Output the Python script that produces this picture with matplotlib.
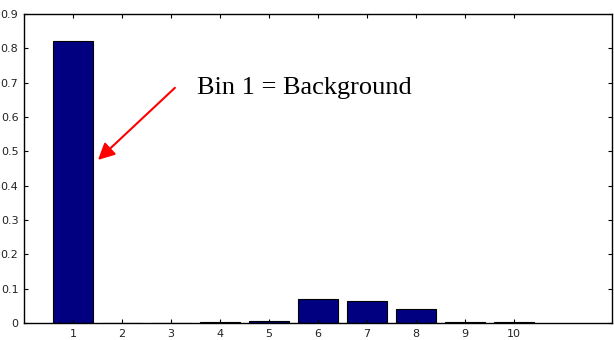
import matplotlib
matplotlib.use("Agg")
import matplotlib.pyplot as plt

bins = [1, 2, 3, 4, 5, 6, 7, 8, 9, 10]
values = [0.821, 0.001, 0.001, 0.002, 0.006, 0.070, 0.063, 0.040, 0.004, 0.002]
yticks = [0, 0.1, 0.2, 0.3, 0.4, 0.5, 0.6, 0.7, 0.8, 0.9]
ytick_labels = ["0", "0.1", "0.2", "0.3", "0.4", "0.5", "0.6", "0.7", "0.8", "0.9"]
annotation = "Bin 1 = Background"

fig = plt.figure(figsize=(6.14, 3.40), dpi=100)
ax = fig.add_axes([24/614, 1 - 323/340, (612-24)/614, (323-14)/340])

ax.bar(bins, values, width=0.8, color="#000080", edgecolor="black", linewidth=0.8)
ax.set_xlim(0, 12)
ax.set_ylim(0, 0.9)
ax.set_xticks(bins)
ax.set_xticklabels([str(b) for b in bins])
ax.set_yticks(yticks)
ax.set_yticklabels(ytick_labels)
for lab in ax.get_xticklabels() + ax.get_yticklabels():
    lab.set_fontfamily(["Liberation Sans Narrow", "DejaVu Sans"])
    lab.set_fontsize(8)
    lab.set_color("#222222")
ax.tick_params(direction="in", length=3, width=0.8, top=True, right=True, pad=4)
for s in ax.spines.values():
    s.set_linewidth(1.0)

ax.annotate("", xy=(1.51, 0.475), xytext=(3.08, 0.685),
            arrowprops=dict(arrowstyle="-|>", color="red", lw=1.5,
                            mutation_scale=25, shrinkA=0, shrinkB=0))
ax.text(3.53, 0.667, annotation, fontsize=19, family=["Liberation Serif", "DejaVu Serif"],
        va="baseline", ha="left")

fig.savefig("out.png", dpi=100)
